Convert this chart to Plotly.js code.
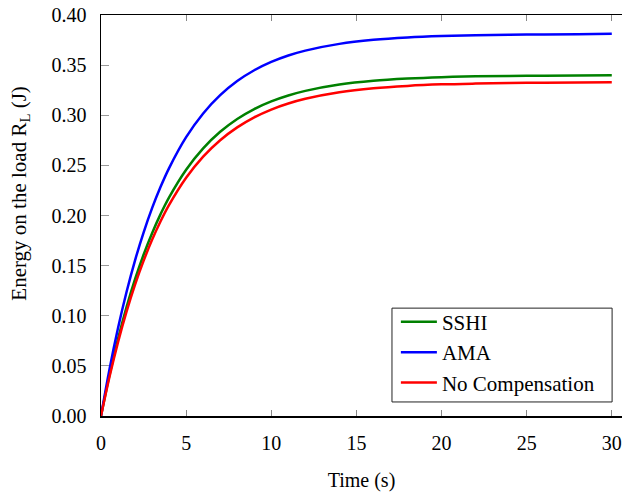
<!DOCTYPE html>
<html>
<head>
<meta charset="utf-8">
<script src="https://cdn.plot.ly/plotly-3.0.1.min.js"></script>
<style>html,body{margin:0;padding:0;background:#fff;}#chart{width:624px;height:493px;}</style>
</head>
<body>
<div id="chart"></div>
<script>
// Time (s)
const time = [0, 0.5, 1, 1.5, 2, 2.5, 3, 3.5, 4, 5, 6, 7, 8, 9, 10, 11, 12, 14, 16, 18, 20, 22, 25, 28, 30];
// Energy on the load (J)
const sshi = [0, 0.0409, 0.0769, 0.1086, 0.1364, 0.1609, 0.1824, 0.2014, 0.2181, 0.2457, 0.2670, 0.2835, 0.2963, 0.3062, 0.3138, 0.3197, 0.3243, 0.3306, 0.3344, 0.3366, 0.3380, 0.3388, 0.3394, 0.3397, 0.3400];
const ama = [0, 0.0467, 0.0877, 0.1237, 0.1553, 0.1830, 0.2073, 0.2286, 0.2473, 0.2781, 0.3018, 0.3200, 0.3341, 0.3449, 0.3532, 0.3596, 0.3645, 0.3712, 0.3752, 0.3776, 0.3790, 0.3798, 0.3805, 0.3808, 0.3812];
const noComp = [0, 0.0391, 0.0737, 0.1041, 0.1310, 0.1547, 0.1757, 0.1942, 0.2105, 0.2376, 0.2587, 0.2751, 0.2879, 0.2979, 0.3057, 0.3117, 0.3164, 0.3229, 0.3269, 0.3293, 0.3308, 0.3316, 0.3324, 0.3327, 0.3330];
const seriesNames = ["SSHI", "AMA", "No Compensation"];
const xTicks = [0, 5, 10, 15, 20, 25, 30];
const yTicks = [0, 0.05, 0.10, 0.15, 0.20, 0.25, 0.30, 0.35, 0.40];

const font = "Liberation Serif";
function tr(y, name, color) {
  return {x: time, y: y, name: name, type: "scatter", mode: "lines",
          line: {color: color, width: 2.5, shape: "spline", smoothing: 1}};
}
const data = [
  tr(sshi, seriesNames[0], "#008000"),
  tr(ama, seriesNames[1], "#0000ff"),
  tr(noComp, seriesNames[2], "#ff0000")
];
const layout = {
  width: 624, height: 493,
  margin: {l: 101, r: 2, t: 15, b: 77},
  paper_bgcolor: "#fff", plot_bgcolor: "#fff",
  font: {family: font, size: 20, color: "#000"},
  showlegend: true,
  legend: {x: 0.566, y: 0.285, xanchor: "left", yanchor: "top", itemwidth: 36,
           bgcolor: "rgba(0,0,0,0)", borderwidth: 0, traceorder: "normal",
           font: {family: font, size: 21, color: "#000"}},
  shapes: [{type: "rect", xref: "paper", yref: "paper", x0: 0.5585, x1: 0.981, y0: 0.035, y1: 0.269,
            line: {color: "#222", width: 1}, fillcolor: "#fff", layer: "below"}],
  annotations: [{text: "Energy on the load R<sub>L</sub> (J)", xref: "paper", yref: "paper",
                 x: -0.155, y: 0.555, xanchor: "center", yanchor: "middle", textangle: -90, showarrow: false,
                 font: {family: font, size: 21, color: "#000"}}],
  xaxis: {range: [0, 30.6], tickvals: xTicks, ticktext: xTicks.map(String),
          showgrid: false, zeroline: false, showline: true, linecolor: "#000", linewidth: 1.5,
          mirror: "ticks", ticks: "inside", ticklen: 6, tickcolor: "#888", tickwidth: 1.2,
          ticklabelstandoff: 8, tickfont: {family: font, size: 20, color: "#000"},
          title: {text: "Time (s)", font: {family: font, size: 20, color: "#000"}, standoff: 20}},
  yaxis: {range: [0, 0.40], tickvals: yTicks, ticktext: yTicks.map(v => v.toFixed(2)),
          showgrid: false, zeroline: false, showline: true, linecolor: "#000", linewidth: 1.5,
          ticks: "inside", ticklen: 8, tickcolor: "#999", tickwidth: 1.2,
          ticklabelstandoff: 9, tickfont: {family: font, size: 20, color: "#000"}},
  yaxis2: {overlaying: "y", matches: "y", side: "right", range: [0, 0.40], tickvals: yTicks,
           showticklabels: false, showgrid: false, zeroline: false, showline: false,
           ticks: "outside", ticklen: 3, tickcolor: "#999"}
};
Plotly.newPlot("chart", data, layout, {displayModeBar: false, staticPlot: true});
</script>
</body>
</html>
